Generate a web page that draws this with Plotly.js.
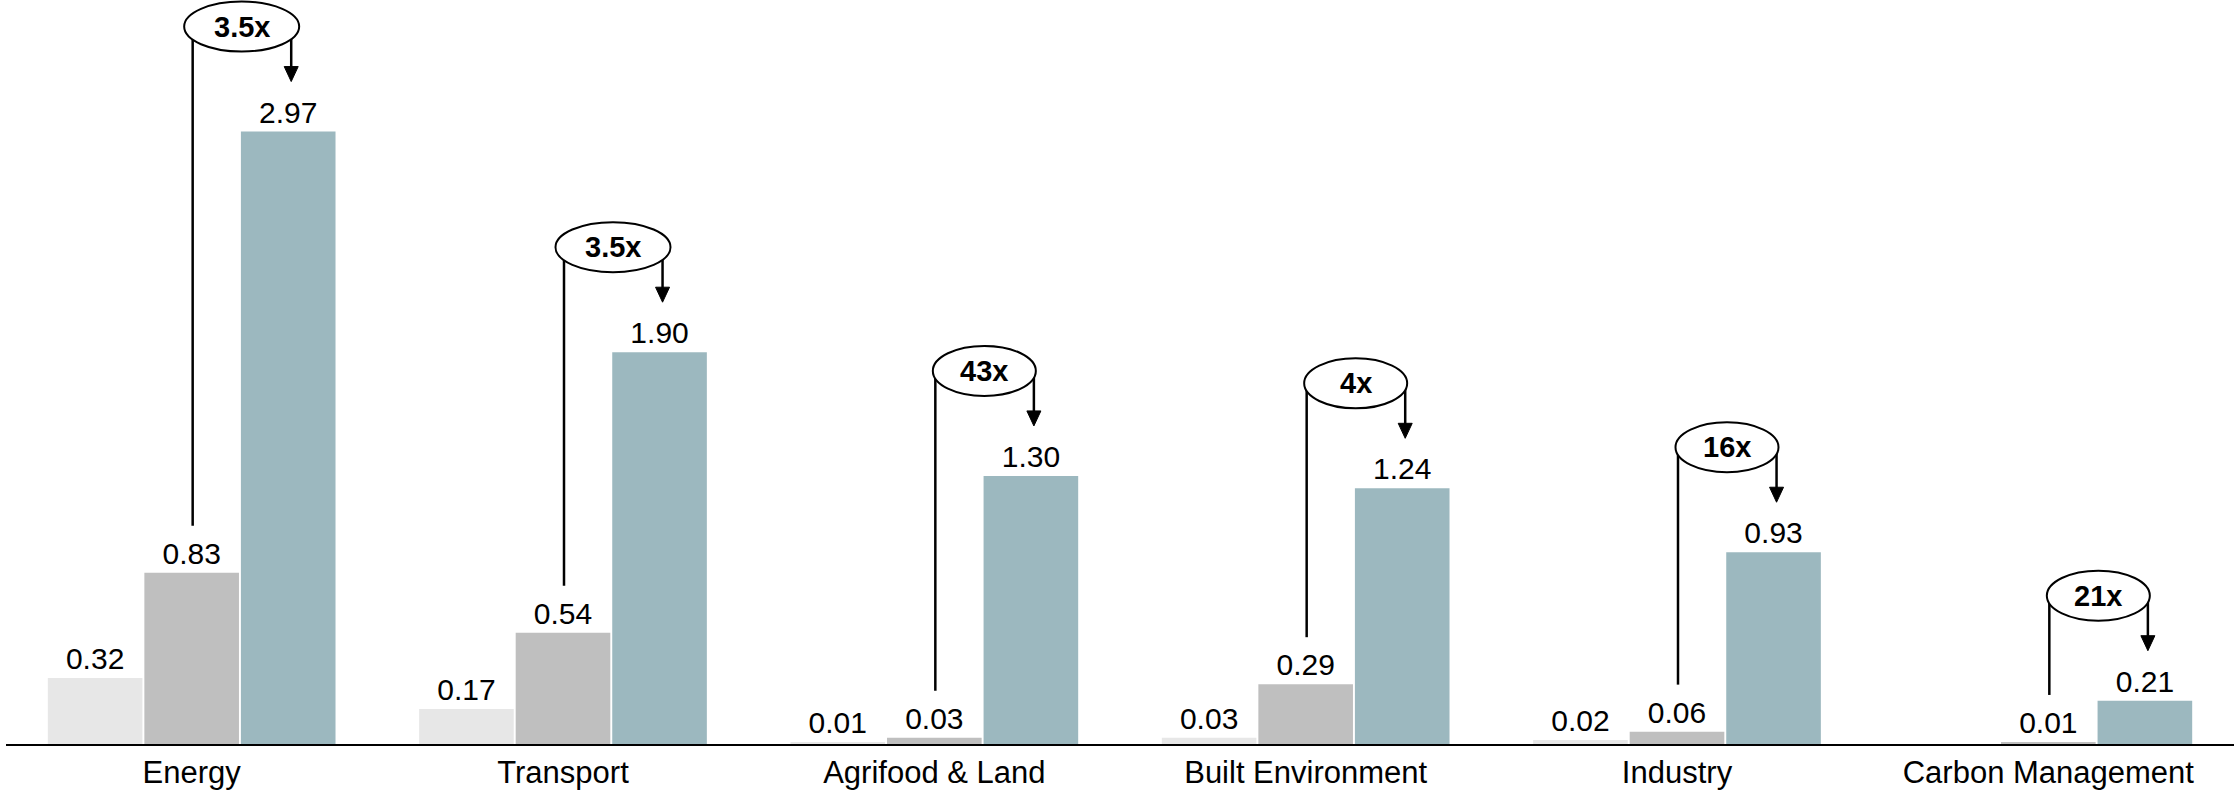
<!DOCTYPE html>
<html>
<head>
<meta charset="utf-8">
<script src="https://cdn.plot.ly/plotly-3.0.1.min.js"></script>
<style>html,body{margin:0;padding:0;background:#fff;}#chart{width:2234px;height:797px;}</style>
</head>
<body>
<div id="chart"></div>
<script>
// ---- data ----
const categories = ["Energy", "Transport", "Agrifood & Land", "Built Environment", "Industry", "Carbon Management"];
const period1Values = [0.32, 0.17, 0.01, 0.03, 0.02, null];
const period2Values = [0.83, 0.54, 0.03, 0.29, 0.06, 0.01];
const period3Values = [2.97, 1.90, 1.30, 1.24, 0.93, 0.21];
const multiplierLabels = ["3.5x", "3.5x", "43x", "4x", "16x", "21x"];

// ---- layout constants ----
const W = 2234, H = 797;
const M = {l: 6, r: 0, t: 0, b: 53};
const yMax = 3.608;
const plotH = H - M.t - M.b;
const ppu = plotH / yMax;          // pixels per data unit on y
const bargap = 0.22;
const barW = (1 - bargap) / 3;     // width of one bar in category units
const FONT = "Liberation Sans, Arial, Helvetica, sans-serif";

const xIdx = categories.map((_, i) => i);

function barTrace(vals, color) {
  return {
    type: "bar",
    x: xIdx,
    y: vals,
    marker: {color: color, line: {width: 0}},
    text: vals.map(v => v == null ? "" : v.toFixed(2)),
    textposition: "outside",
    textfont: {family: FONT, size: 30, color: "#000"},
    cliponaxis: false,
    constraintext: "none",
    hoverinfo: "skip"
  };
}

const traces = [
  barTrace(period1Values, "#e7e7e7"),
  barTrace(period2Values, "#bfbfbf"),
  barTrace(period3Values, "#9cb8bf")
];

// ---- annotation geometry (pixels, relative to data anchors) ----
const ELL_DX = 50, ELL_DY = 105, ELL_HH = 25;
const LINE_GAP = 47, TIP_GAP = 50, HEAD_H = 15, HEAD_HW = 7;

const shapes = [];
const annotations = [];
categories.forEach((c, i) => {
  const top = period3Values[i];
  const mid = period2Values[i];
  const hw = multiplierLabels[i].length > 3 ? 57.5 : 51.5;
  // left connector (from above middle bar up into ellipse)
  shapes.push({
    type: "line", xref: "x", yref: "y",
    xsizemode: "pixel", ysizemode: "pixel",
    xanchor: i, yanchor: top,
    x0: 1, x1: 1,
    y0: ELL_DY, y1: -(top - mid) * ppu + LINE_GAP,
    line: {color: "#000", width: 2.5}
  });
  // arrow shaft
  shapes.push({
    type: "line", xref: "x", yref: "y",
    xsizemode: "pixel", ysizemode: "pixel",
    xanchor: i + barW, yanchor: top,
    x0: 3, x1: 3,
    y0: ELL_DY, y1: TIP_GAP + HEAD_H - 3,
    line: {color: "#000", width: 2.5}
  });
  // arrow head
  shapes.push({
    type: "path", xref: "x", yref: "y",
    xsizemode: "pixel", ysizemode: "pixel",
    xanchor: i + barW, yanchor: top,
    path: `M ${3 - HEAD_HW},${TIP_GAP + HEAD_H} L ${3 + HEAD_HW},${TIP_GAP + HEAD_H} L 3,${TIP_GAP} Z`,
    fillcolor: "#000",
    line: {color: "#000", width: 1}
  });
  // ellipse
  shapes.push({
    type: "circle", xref: "x", yref: "y",
    xsizemode: "pixel", ysizemode: "pixel",
    xanchor: i, yanchor: top,
    x0: ELL_DX - hw, x1: ELL_DX + hw,
    y0: ELL_DY - ELL_HH, y1: ELL_DY + ELL_HH,
    fillcolor: "#fff",
    line: {color: "#000", width: 2}
  });
  annotations.push({
    x: i, y: top, xref: "x", yref: "y",
    xshift: ELL_DX, yshift: ELL_DY,
    text: "<b>" + multiplierLabels[i] + "</b>",
    showarrow: false,
    xanchor: "center", yanchor: "middle",
    font: {family: FONT, size: 29, color: "#000"}
  });
});

const layout = {
  width: W, height: H,
  margin: M,
  paper_bgcolor: "#fff",
  plot_bgcolor: "#fff",
  barmode: "group",
  bargap: bargap,
  bargroupgap: 0.02,
  showlegend: false,
  xaxis: {
    range: [-0.5, 5.5],
    tickmode: "array",
    tickvals: xIdx,
    ticktext: categories,
    tickfont: {family: FONT, size: 31, color: "#000"},
    showline: true, linecolor: "#000", linewidth: 2,
    ticks: "", showgrid: false, zeroline: false,
    fixedrange: true
  },
  yaxis: {
    range: [0, yMax],
    showticklabels: false, showgrid: false, zeroline: false,
    showline: false, ticks: "", fixedrange: true
  },
  shapes: shapes,
  annotations: annotations,
  font: {family: FONT, color: "#000"}
};

Plotly.newPlot("chart", traces, layout, {displayModeBar: false, staticPlot: true});
</script>
</body>
</html>
